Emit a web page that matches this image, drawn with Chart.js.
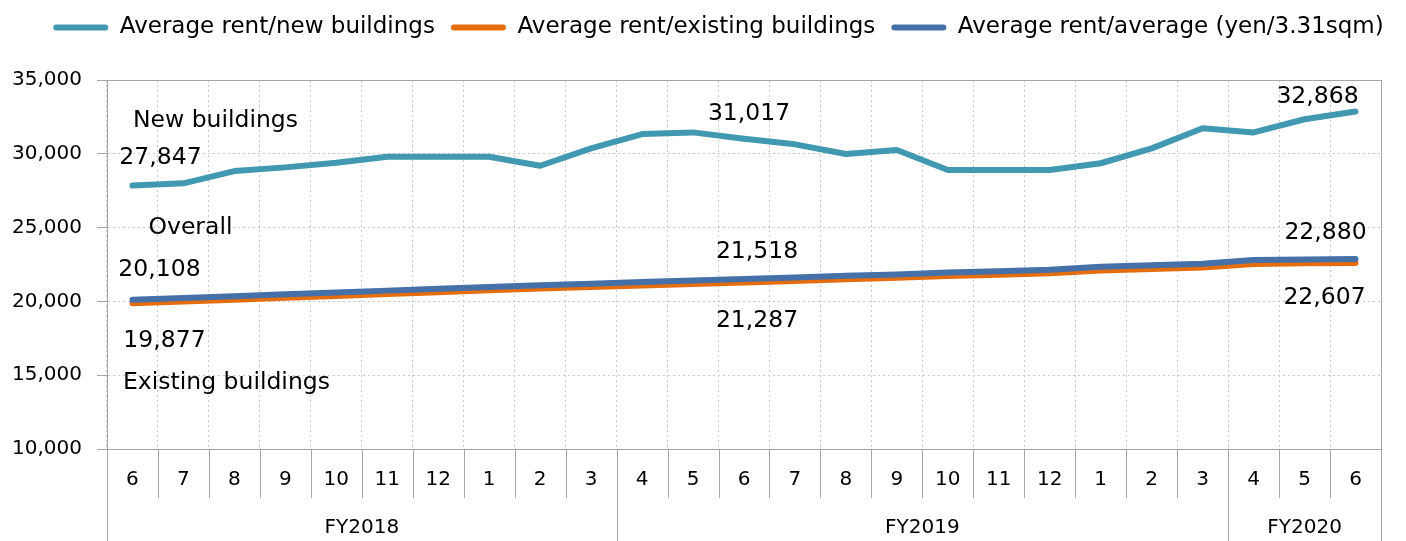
<!DOCTYPE html>
<html>
<head>
<meta charset="utf-8">
<script src="https://cdn.jsdelivr.net/npm/chart.js@4.4.1/dist/chart.umd.min.js"></script>
<style>
html,body{margin:0;padding:0;background:#fff}
#wrap{width:1406px;height:541px;position:relative}
</style>
</head>
<body>
<div id="wrap"><canvas id="myChart"></canvas></div>
<script>
const MONTHS = ['6','7','8','9','10','11','12','1','2','3','4','5','6','7','8','9','10','11','12','1','2','3','4','5','6']
const FISCAL_YEARS = ['FY2018','FY2019','FY2020']
const FY_MONTH_COUNT = [10, 12, 3]

const NEW_BUILDINGS = [27847, 28000, 28830, 29080, 29400, 29800, 29800, 29800, 29190, 30370,
  31340, 31450, 31017, 30640, 29990, 30260, 28900, 28900, 28900, 29360, 30370, 31730, 31450, 32340, 32868]
const EXISTING_BUILDINGS = [19877, 20000, 20120, 20250, 20370, 20500, 20620, 20750, 20870, 20970,
  21080, 21180, 21287, 21390, 21500, 21600, 21720, 21810, 21900, 22100, 22200, 22300, 22540, 22580, 22607]
const OVERALL = [20108, 20230, 20350, 20480, 20600, 20730, 20850, 20980, 21100, 21200,
  21310, 21410, 21518, 21620, 21730, 21830, 21950, 22050, 22150, 22350, 22450, 22550, 22800, 22840, 22880]

const SERIES_NAMES = ['Average rent/new buildings', 'Average rent/existing buildings', 'Average rent/average (yen/3.31sqm)']
const Y_MIN = 10000
const Y_MAX = 35000
const Y_STEP = 5000

const FONT = '"DejaVu Sans", Verdana, sans-serif'
const AXIS_GRAY = '#a6a6a6'
const LEGEND_GAP = 31
const LEGEND_SHIFT = 28

Chart.defaults.font.family = FONT
Chart.defaults.color = '#000'

function fmt(v){
	return v.toLocaleString('en-US')
}

// annotations next to the lines: [dataset, index, dx, dy, text or null for the value]
const notes = [
	[0, 0, 83, -65, 'New buildings'],
	[0, 0, 28, -28, null],
	[0, 12, 5, -25, null],
	[0, 24, -38, -15, null],
	[2, 0, 58, -72, 'Overall'],
	[2, 0, 27, -30, null],
	[2, 12, 13, -27, null],
	[2, 24, -30, -26, null],
	[1, 0, 32, 38, null],
	[1, 12, 13, 38, null],
	[1, 24, -31, 35, null],
	[1, 0, 94, 80, 'Existing buildings']
]

//push plot area down below the legend, and nudge the legend right
const legendGapPlugin = {
	id: 'legendGap',
	beforeInit(chart){
		var origFit = chart.legend.fit
		chart.legend.fit = function(){
			origFit.bind(chart.legend)()
			this.height += LEGEND_GAP
		}
	},
	afterLayout(chart){
		chart.legend.left += LEGEND_SHIFT
		chart.legend.right += LEGEND_SHIFT
	}
}

const framePlugin = {
	id: 'frame',
	afterDraw(chart){
		var ctx = chart.ctx
		var a = chart.chartArea
		var x = chart.scales.x
		var y = chart.scales.y
		ctx.save()

		//plot box
		ctx.strokeStyle = AXIS_GRAY
		ctx.lineWidth = 1
		ctx.strokeRect(Math.round(a.left) + 0.5, Math.round(a.top) + 0.5, Math.round(a.right - a.left), Math.round(a.bottom - a.top))

		//two level category axis
		var half = (x.getPixelForValue(1) - x.getPixelForValue(0)) / 2
		var bounds = []
		for(var i = 0; i < MONTHS.length; i++) bounds.push(x.getPixelForValue(i) - half)
		bounds.push(x.getPixelForValue(MONTHS.length - 1) + half)

		var fyEdges = [0]
		var acc = 0
		for(var k = 0; k < FY_MONTH_COUNT.length; k++){ acc += FY_MONTH_COUNT[k]; fyEdges.push(acc) }

		ctx.beginPath()
		for(var i = 0; i < bounds.length; i++){
			var bx = Math.round(bounds[i]) + 0.5
			var bottom = fyEdges.indexOf(i) >= 0 ? chart.height : a.bottom + 49
			ctx.moveTo(bx, a.bottom)
			ctx.lineTo(bx, bottom)
		}
		ctx.stroke()

		ctx.fillStyle = '#000'
		ctx.font = '20px ' + FONT
		ctx.textAlign = 'center'
		ctx.textBaseline = 'middle'
		for(var i = 0; i < MONTHS.length; i++){
			ctx.fillText(MONTHS[i], x.getPixelForValue(i), a.bottom + 31)
		}
		for(var k = 0; k < FISCAL_YEARS.length; k++){
			var cx = (bounds[fyEdges[k]] + bounds[fyEdges[k + 1]]) / 2
			ctx.fillText(FISCAL_YEARS[k], cx, a.bottom + 79)
		}

		//value labels
		ctx.font = '23.5px ' + FONT
		var all = [NEW_BUILDINGS, EXISTING_BUILDINGS, OVERALL]
		notes.forEach(function(n){
			var v = all[n[0]][n[1]]
			var txt = n[4] === null ? fmt(v) : n[4]
			ctx.fillText(txt, x.getPixelForValue(n[1]) + n[2], y.getPixelForValue(v) + n[3])
		})
		ctx.restore()
	}
}

function line(label, data, color, order){
	return {
		label: label,
		data: data,
		borderColor: color,
		backgroundColor: color,
		borderWidth: 6,
		pointRadius: 0,
		tension: 0,
		borderCapStyle: 'round',
		borderJoinStyle: 'round',
		order: order
	}
}

var ctx = document.getElementById('myChart').getContext('2d')
var myChart = new Chart(ctx, {
	type: 'line',
	data: {
		labels: MONTHS,
		datasets: [
			line(SERIES_NAMES[0], NEW_BUILDINGS, '#4198b1', 0),
			line(SERIES_NAMES[1], EXISTING_BUILDINGS, '#e56d0e', 2),
			line(SERIES_NAMES[2], OVERALL, '#4571a8', 1)
		]
	},
	options: {
		responsive: true,
		maintainAspectRatio: false,
		animation: false,
		layout: { padding: { top: 0, right: 25, left: 0, bottom: 0 } },
		plugins: {
			tooltip: { enabled: false },
			legend: {
				position: 'top',
				labels: {
					font: { size: 23, family: FONT },
					color: '#000',
					boxWidth: 55,
					boxHeight: 6,
					padding: 16,
					useBorderRadius: true,
					borderRadius: 3,
					sort: function(a, b){ return a.datasetIndex - b.datasetIndex },
					generateLabels: function(chart){
						var items = Chart.defaults.plugins.legend.labels.generateLabels(chart)
						items.forEach(function(it){ it.lineWidth = 0; it.strokeStyle = it.fillStyle })
						return items
					}
				}
			}
		},
		scales: {
			x: {
				offset: true,
				ticks: { display: false },
				grid: { offset: true, drawTicks: false, color: '#c8c8c8' },
				border: { display: true, color: AXIS_GRAY, dash: [2, 3] },
				afterFit: function(s){ s.height = 92 }
			},
			y: {
				min: Y_MIN,
				max: Y_MAX,
				ticks: {
					stepSize: Y_STEP,
					padding: 15,
					font: { size: 20, family: FONT },
					color: '#000',
					callback: function(v){ return fmt(v) }
				},
				grid: { color: '#c8c8c8', tickLength: 10, tickColor: AXIS_GRAY, tickBorderDash: [] },
				border: { display: true, color: AXIS_GRAY, dash: [2, 3] },
				afterFit: function(s){ s.width = 107 }
			}
		}
	},
	plugins: [legendGapPlugin, framePlugin]
})
</script>
</body>
</html>
